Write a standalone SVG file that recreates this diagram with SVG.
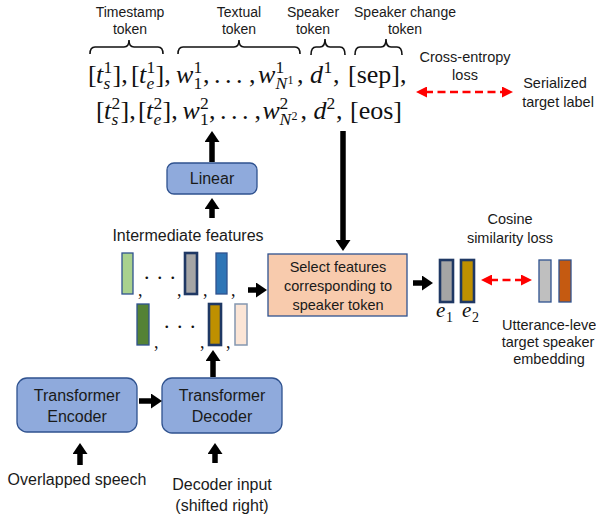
<svg xmlns="http://www.w3.org/2000/svg" width="596" height="517" viewBox="0 0 596 517">
<style>
.lbl{font-family:"Liberation Sans",Arial,sans-serif;fill:#1a1a1a;text-anchor:middle}
.s14{font-size:14px}.s145{font-size:14.5px}.s16{font-size:16px}
.m{font-family:"Liberation Serif","Times New Roman",serif;fill:#111}
.mi{font-style:italic}
.big{font-size:26px}.sc{font-size:17.5px}.ssc{font-size:12px}
.box{fill:#8FAADC;stroke:#2F528F;stroke-width:1.3}
.sel{fill:#F8CBAD;stroke:#2F528F;stroke-width:1.3}
.bar{stroke:#2F528F;stroke-width:1.3}
.thk{stroke:#1F3864;stroke-width:2.6}
.brace{fill:none;stroke:#111;stroke-width:1.6}
.arr{stroke:#000;stroke-width:5.5;fill:none}
.red{stroke:#FF0000;stroke-width:2.6;stroke-dasharray:8 4.5;fill:none}
</style>
<defs>
<marker id="blk" markerUnits="userSpaceOnUse" markerWidth="12" markerHeight="15" refX="2" refY="7.5" orient="auto">
<path d="M0,0 L11,7.5 L0,15 z" fill="#000"/>
</marker>
<marker id="rh" markerUnits="userSpaceOnUse" markerWidth="11" markerHeight="11" refX="2" refY="5.5" orient="auto-start-reverse">
<path d="M0,0 L11,5.5 L0,11 z" fill="#FF0000"/>
</marker>
</defs>

<g id="label-timestamp">
<text class="lbl s14" x="130" y="17">Timestamp</text>
<text class="lbl s14" x="130" y="34">token</text>
<path class="brace" d="M90,54 Q90,47 95,47 L124,47 Q129,47 129,40 Q129,47 134,47 L158,47 Q163,47 163,54"/>
</g>
<g id="label-textual">
<text class="lbl s14" x="239" y="17">Textual</text>
<text class="lbl s14" x="239" y="34">token</text>
<path class="brace" d="M178,54 Q178,47 183,47 L234,47 Q239,47 239,40 Q239,47 244,47 L295,47 Q300,47 300,54"/>
</g>
<g id="label-speaker">
<text class="lbl s14" x="313" y="17">Speaker</text>
<text class="lbl s14" x="313" y="34">token</text>
<path class="brace" d="M311,55 Q311,47 316,47 L320,47 Q325,47 325,39 Q325,47 330,47 L340,47 Q345,47 345,55"/>
</g>
<g id="label-change">
<text class="lbl s14" x="405" y="17">Speaker change</text>
<text class="lbl s14" x="405" y="34">token</text>
<path class="brace" d="M355,55 Q355,47 360,47 L381,47 Q386,47 386,39 Q386,47 391,47 L397,47 Q402,47 402,55"/>
</g>

<g id="output-sequence">
<text class="m big">
<tspan x="88" y="83">[</tspan><tspan class="mi" x="96" y="83">t</tspan><tspan class="sc" x="103.5" y="73">1</tspan><tspan class="sc mi" x="103.5" y="89">s</tspan><tspan x="112.5" y="83">],</tspan>
<tspan x="131" y="83">[</tspan><tspan class="mi" x="139" y="83">t</tspan><tspan class="sc" x="146.5" y="73">1</tspan><tspan class="sc mi" x="146.5" y="89">e</tspan><tspan x="155.5" y="83">],</tspan>
<tspan class="mi" x="176" y="83">w</tspan><tspan class="sc" x="193.5" y="73">1</tspan><tspan class="sc" x="193.5" y="89">1</tspan><tspan x="203" y="83">,</tspan>
<tspan x="214" y="83">.</tspan><tspan x="225" y="83">.</tspan><tspan x="236" y="83">.</tspan><tspan x="249" y="83">,</tspan>
<tspan class="mi" x="258" y="83">w</tspan><tspan class="sc" x="275.5" y="73">1</tspan><tspan class="sc mi" x="275.5" y="89">N</tspan><tspan class="ssc" x="287.5" y="84">1</tspan><tspan x="297" y="83">,</tspan>
<tspan class="mi" x="310" y="83">d</tspan><tspan class="sc" x="323.5" y="73">1</tspan><tspan x="333" y="83">,</tspan>
<tspan x="348" y="83">[sep],</tspan>
</text>
<text class="m big">
<tspan x="96" y="119">[</tspan><tspan class="mi" x="104" y="119">t</tspan><tspan class="sc" x="111.5" y="109">2</tspan><tspan class="sc mi" x="111.5" y="125">s</tspan><tspan x="120.5" y="119">],</tspan>
<tspan x="138" y="119">[</tspan><tspan class="mi" x="146" y="119">t</tspan><tspan class="sc" x="153.5" y="109">2</tspan><tspan class="sc mi" x="153.5" y="125">e</tspan><tspan x="162.5" y="119">],</tspan>
<tspan class="mi" x="182.5" y="119">w</tspan><tspan class="sc" x="200" y="109">2</tspan><tspan class="sc" x="200" y="125">1</tspan><tspan x="209" y="119">,</tspan>
<tspan x="220" y="119">.</tspan><tspan x="231" y="119">.</tspan><tspan x="242" y="119">.</tspan><tspan x="254.5" y="119">,</tspan>
<tspan class="mi" x="262.5" y="119">w</tspan><tspan class="sc" x="279.5" y="109">2</tspan><tspan class="sc mi" x="279.5" y="125">N</tspan><tspan class="ssc" x="291.5" y="120">2</tspan><tspan x="300.5" y="119">,</tspan>
<tspan class="mi" x="313.5" y="119">d</tspan><tspan class="sc" x="326.5" y="109">2</tspan><tspan x="336" y="119">,</tspan>
<tspan x="350" y="119">[eos]</tspan>
</text>
</g>

<g id="cross-entropy">
<text class="lbl s145" x="465" y="62">Cross-entropy</text>
<text class="lbl s145" x="465" y="80">loss</text>
</g>
<g id="serialized-target">
<text class="lbl s145" x="555" y="88">Serialized</text>
<text class="lbl s145" x="558" y="107">target label</text>
</g>

<g id="linear">
<rect class="box" x="167" y="163" width="90" height="31" rx="7"/>
<text class="lbl s16" x="212" y="184">Linear</text>
</g>

<g id="intermediate-features">
<text class="lbl s16" x="188" y="241">Intermediate features</text>
<rect class="bar" x="122" y="253" width="11" height="41" fill="#A9D18E"/>
<rect class="thk" x="185" y="253" width="12" height="41" fill="#A5A5A5"/>
<rect class="bar" x="216" y="253" width="11" height="41" fill="#2E75B6"/>
<rect class="bar" x="137" y="304" width="12" height="41" fill="#548235"/>
<rect class="thk" x="209" y="304" width="12" height="41" fill="#BF9000"/>
<rect x="235" y="304" width="12" height="41" fill="#FBE5D6" stroke="#8497B0" stroke-width="1.5"/>
<text class="m" font-size="18" x="138 177 203 231" y="296">,,,,</text>
<text class="m" font-size="22" x="144 157 170" y="279">...</text>
<text class="m" font-size="18" x="154 200 226" y="348">,,,</text>
<text class="m" font-size="22" x="164 177 190" y="328">...</text>
</g>

<g id="select-features">
<rect class="sel" x="268" y="254" width="139" height="62"/>
<text class="lbl s145" x="338" y="272">Select features</text>
<text class="lbl s145" x="338" y="291">corresponding to</text>
<text class="lbl s145" x="338" y="310">speaker token</text>
</g>

<g id="speaker-embeddings">
<rect class="thk" x="440" y="260" width="13" height="42" fill="#A5A5A5"/>
<rect class="thk" x="461" y="260" width="13" height="42" fill="#BF9000"/>
<text class="m mi" font-size="21" x="436" y="317">e</text>
<text class="m" font-size="14" x="446" y="322">1</text>
<text class="m mi" font-size="21" x="462" y="317">e</text>
<text class="m" font-size="14" x="472" y="322">2</text>
</g>

<g id="cosine-loss">
<text class="lbl s145" x="510" y="224">Cosine</text>
<text class="lbl s145" x="510" y="243">similarity loss</text>
</g>

<g id="target-embedding">
<rect class="bar" x="539" y="260" width="12" height="42" fill="#BFBFBF"/>
<rect class="bar" x="559" y="260" width="12" height="42" fill="#C55A11"/>
<text class="lbl s145" x="502" y="330" style="text-anchor:start">Utterance-leve</text>
<text class="lbl s145" x="548" y="347">target speaker</text>
<text class="lbl s145" x="549" y="364">embedding</text>
</g>

<g id="transformer-encoder">
<rect class="box" x="17" y="378" width="120" height="54" rx="10"/>
<text class="lbl s16" x="77" y="401">Transformer</text>
<text class="lbl s16" x="77" y="422">Encoder</text>
</g>
<g id="transformer-decoder">
<rect class="box" x="162" y="378" width="120" height="55" rx="10"/>
<text class="lbl s16" x="222" y="401">Transformer</text>
<text class="lbl s16" x="222" y="422">Decoder</text>
</g>

<g id="overlapped-speech">
<text class="lbl s16" x="77" y="485">Overlapped speech</text>
</g>
<g id="decoder-input">
<text class="lbl s16" x="222" y="490">Decoder input</text>
<text class="lbl s16" x="222" y="511">(shifted right)</text>
</g>

<g id="connectors">
<line class="arr" x1="212" y1="162" x2="212" y2="140" marker-end="url(#blk)"/>
<line class="arr" x1="212" y1="218" x2="212" y2="207" marker-end="url(#blk)"/>
<line class="arr" x1="343" y1="131" x2="343" y2="242" marker-end="url(#blk)"/>
<line class="arr" x1="248" y1="290" x2="258" y2="290" marker-end="url(#blk)"/>
<line class="arr" x1="413" y1="283" x2="424" y2="283" marker-end="url(#blk)"/>
<line class="arr" x1="139" y1="401" x2="153" y2="401" marker-end="url(#blk)"/>
<line class="arr" x1="80" y1="465" x2="80" y2="452" marker-end="url(#blk)"/>
<line class="arr" x1="215" y1="463" x2="215" y2="452" marker-end="url(#blk)"/>
<line class="arr" x1="213" y1="377" x2="213" y2="359" marker-end="url(#blk)"/>
<line class="red" x1="425" y1="92" x2="504" y2="92" marker-start="url(#rh)" marker-end="url(#rh)"/>
<line class="red" x1="490" y1="280" x2="523" y2="280" marker-start="url(#rh)" marker-end="url(#rh)"/>
</g>
</svg>
